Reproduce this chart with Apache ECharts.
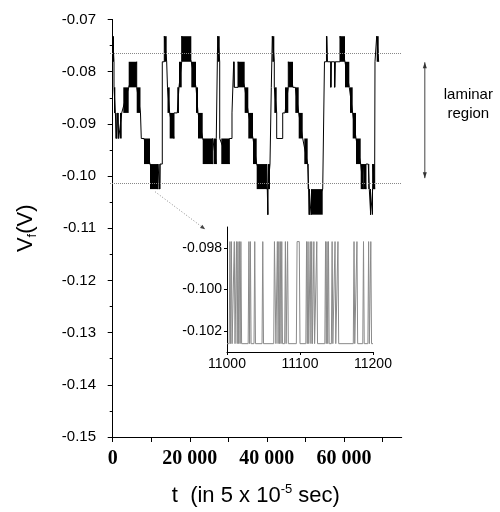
<!DOCTYPE html>
<html><head><meta charset="utf-8">
<script src="https://cdn.jsdelivr.net/npm/echarts@6/dist/echarts.min.js"></script>
<style>html,body{margin:0;padding:0;background:#fff}#c{width:500px;height:512px}</style>
</head><body><div id="c"></div>
<script>
// voltage levels of the staircase (V)
const levels = [-0.0732, -0.0781, -0.0830, -0.0879, -0.0928, -0.0977, -0.1025, -0.1074];
// signal segments: [tStart, tEnd, levelFrom, levelTo]; equal levels = flat, different = rapid switching
const segments = [
  [0,340,0,1],[340,680,2,3],[680,1040,3,4],[1040,1300,4,4],[1300,1560,3,4],[1560,1890,4,4],[1890,2340,4,3],[2340,2750,3,3],
  [2750,4150,3,2],[4150,6230,2,1],[6230,7210,2,3],[7210,7420,3,3],[7420,8120,4,4],[8120,9680,4,5],[9680,11760,5,6],
  [11760,12150,5,5],[12150,12270,6,5],[12270,12870,5,5],[12870,13390,1,1],[13390,14010,0,1],[14010,14220,1,1],
  [14220,14790,2,3],[14790,15910,3,4],[15910,16760,3,3],[16760,17200,3,2],[17200,17910,2,1],[17910,20400,0,1],
  [20400,21620,1,2],[21620,22140,2,3],[22140,23360,3,4],[23360,25950,4,5],[25950,26210,4,4],[26210,26880,4,5],
  [26880,27250,4,4],[27250,27770,0,1],[27770,28180,4,4],[28180,30260,4,5],[30260,30960,4,4],[30960,31400,3,3],
  [31400,31550,1,2],[31550,32520,2,2],[32520,34250,1,2],[34250,35190,2,3],[35190,36410,3,4],[36410,37370,4,5],
  [37370,39960,5,6],[39960,40120,5,5],[40120,40270,6,7],[40270,40820,6,5],[40820,41160,5,5],[41160,41420,2,2],
  [41420,41940,0,1],[41940,42560,2,3],[42560,44120,4,4],[44120,44710,3,3],[44710,45570,3,2],[45570,46790,1,2],
  [46790,47390,2,2],[47390,48270,2,3],[48270,49310,3,4],[49310,49720,4,4],[49720,50600,4,5],[50600,50860,5,6],
  [50860,51020,6,7],[51020,51460,6,6],[51460,54500,7,6],[54500,54960,6,6],[54960,55480,1,1],[55480,55740,0,1],
  [55740,56570,1,1],[56570,56730,2,1],[56730,57560,1,1],[57560,57770,2,1],[57770,58980,1,1],[58980,60280,0,1],
  [60280,61400,1,2],[61400,61580,2,2],[61580,62280,2,3],[62280,63140,3,4],[63140,64360,4,5],[64360,65030,5,6],
  [65030,65210,5,5],[65210,65730,5,6],[65730,66330,5,5],[66330,66590,5,6],[66590,66770,6,6],[66770,66950,6,7],
  [66950,67290,7,7],[67290,67470,7,6],[67470,67990,5,6],[67990,68070,5,5],[68070,68510,1,1],[68510,69030,0,1]
];
const laminarBounds = [-0.0764, -0.1014];
const xTickValues = [0, 10000, 20000, 30000, 40000, 50000, 60000, 70000];
const xLabelValues = [0, 20000, 40000, 60000];
// inset: zoom 11000..11200
const insetHigh = -0.0977, insetLow = -0.1026;
const insetHighRuns = [[11004,11004],[11006,11006],[11010,11010],[11013,11013],[11015,11015],[11017,11017],[11019,11019],
  [11030,11030],[11032,11032],[11038,11038],[11049,11049],[11065,11066],[11069,11069],[11071,11071],[11073,11073],
  [11075,11075],[11080,11080],[11083,11083],[11096,11099],[11109,11109],[11111,11111],[11114,11114],[11116,11116],
  [11119,11119],[11123,11123],[11135,11135],[11137,11137],[11139,11139],[11144,11144],[11148,11148],[11152,11152],
  [11174,11174],[11178,11178],[11187,11187],[11194,11194],[11197,11197]];
const insetYLabels = [-0.102, -0.100, -0.098];
// annotations (data coords of main axes)
const leader = [[11000, -0.1030], [24000, -0.1102]];
const arrowT = 81000, arrowTop = -0.0782, arrowBottom = -0.1004;
const noteT = 92300, noteLines = [['laminar', -0.0845], ['region', -0.0880]];

const linePts = [];
segments.forEach(s => { linePts.push([s[0], levels[s[2]]]); linePts.push([s[1], levels[s[3]]]); });
const bursts = segments.filter(s => s[2] !== s[3]).map(s => [s[0], s[1], Math.max(levels[s[2]], levels[s[3]]), Math.min(levels[s[2]], levels[s[3]])]);
const insetPts = [[11000, insetLow]];
insetHighRuns.forEach(r => { insetPts.push([r[0]-1, insetLow]); insetPts.push([r[0], insetHigh]); insetPts.push([r[1], insetHigh]); insetPts.push([r[1]+1, insetLow]); });
insetPts.push([11200, insetLow]);

const FS = 'Liberation Sans, Arial, sans-serif';
const chart = echarts.init(document.getElementById('c'), null, {renderer: 'canvas'});
const axisLine = {show: true, lineStyle: {color: '#000', width: 1}};
chart.setOption({
  animation: false,
  textStyle: {fontFamily: FS, color: '#000'},
  grid: [
    {left: 110, right: 98.3, top: 19.5, bottom: 75},
    {left: 227, top: 227, width: 146, height: 125}
  ],
  xAxis: [{
    type: 'value', gridIndex: 0, min: -700, max: 75000,
    axisLine, splitLine: {show: false},
    axisTick: {show: true, inside: false, length: 5, customValues: xTickValues, lineStyle: {color: '#000'}},
    axisLabel: {customValues: xLabelValues, fontFamily: 'Liberation Serif, Times New Roman, serif', fontWeight: 'bold', fontSize: 20, color: '#000', margin: 12,
      formatter: v => String(v).replace(/\B(?=(\d{3})+(?!\d))/g, ' ')},
    name: '{a|t  (in 5 x 10}{p|-5}{a| sec)}', nameLocation: 'middle', nameGap: 46,
    nameTextStyle: {rich: {a: {fontSize: 22, lineHeight: 26, fontFamily: FS, color: '#000'}, p: {fontSize: 13, lineHeight: 13, verticalAlign: 'top', fontFamily: FS, color: '#000'}}}
  }, {
    type: 'value', gridIndex: 1, min: 11000, max: 11200, interval: 100,
    axisLine, splitLine: {show: false},
    axisTick: {show: true, length: 3, lineStyle: {color: '#000'}},
    axisLabel: {fontSize: 14, color: '#000', margin: 5, formatter: v => String(v)}
  }],
  yAxis: [{
    type: 'value', gridIndex: 0, min: -0.15, max: -0.07, interval: 0.01,
    axisLine, splitLine: {show: false},
    axisTick: {show: true, inside: false, length: 5, lineStyle: {color: '#000'}},
    minorTick: {show: true, splitNumber: 2, length: 3, lineStyle: {color: '#000'}},
    axisLabel: {fontSize: 15, color: '#000', margin: 14, formatter: v => v.toFixed(2)},
    name: '{v|V}{s|f}{v|(V)}', nameLocation: 'middle', nameRotate: 90, nameGap: 71,
    nameTextStyle: {rich: {v: {fontSize: 22, lineHeight: 26, fontFamily: FS, color: '#000'}, s: {fontSize: 13, lineHeight: 13, verticalAlign: 'bottom', fontFamily: FS, color: '#000'}}}
  }, {
    type: 'value', gridIndex: 1, min: -0.103, max: -0.097,
    axisLine, splitLine: {show: false},
    axisTick: {show: true, length: 3, customValues: insetYLabels, lineStyle: {color: '#000'}},
    axisLabel: {customValues: insetYLabels, fontSize: 14, color: '#000', margin: 5, formatter: v => v.toFixed(3)}
  }],
  series: [{
    type: 'line', xAxisIndex: 0, yAxisIndex: 0, data: linePts, showSymbol: false, symbol: 'none',
    lineStyle: {color: '#000', width: 1}, z: 2, silent: true,
    markLine: {silent: true, symbol: 'none', label: {show: false}, precision: 6,
      lineStyle: {type: 'dotted', color: '#888', width: 1},
      data: laminarBounds.map(v => [{coord: [-700, v]}, {coord: [75000, v]}])}
  }, {
    type: 'custom', xAxisIndex: 0, yAxisIndex: 0, data: bursts, z: 3, silent: true,
    encode: {x: [0, 1], y: [2, 3]},
    renderItem: (params, api) => {
      const a = api.coord([api.value(0), api.value(2)]);
      const b = api.coord([api.value(1), api.value(3)]);
      return {type: 'rect', shape: {x: Math.min(a[0], b[0]), y: Math.min(a[1], b[1]),
        width: Math.max(Math.abs(b[0] - a[0]), 1), height: Math.abs(b[1] - a[1])}, style: {fill: '#000'}};
    }
  }, {
    type: 'line', xAxisIndex: 1, yAxisIndex: 1, data: insetPts, showSymbol: false, symbol: 'none',
    lineStyle: {color: '#8a8a8a', width: 1}, silent: true
  }]
});

const px = p => chart.convertToPixel({gridIndex: 0}, p);
const l0 = px(leader[0]), l1 = px(leader[1]);
const ang = Math.atan2(l1[1] - l0[1], l1[0] - l0[0]);
const head = (tip, a, len, w) => [tip, [tip[0] - len * Math.cos(a) + w * Math.sin(a), tip[1] - len * Math.sin(a) - w * Math.cos(a)],
  [tip[0] - len * Math.cos(a) - w * Math.sin(a), tip[1] - len * Math.sin(a) + w * Math.cos(a)]];
const aTop = px([arrowT, arrowTop]), aBot = px([arrowT, arrowBottom]);
const graphics = [
  {type: 'line', shape: {x1: l0[0], y1: l0[1], x2: l1[0], y2: l1[1]}, style: {stroke: '#888', lineWidth: 1, lineDash: [1, 2]}},
  {type: 'polygon', shape: {points: head(l1, ang, 5, 2)}, style: {fill: '#444'}},
  {type: 'line', shape: {x1: aTop[0], y1: aTop[1], x2: aBot[0], y2: aBot[1]}, style: {stroke: '#444', lineWidth: 1}},
  {type: 'polygon', shape: {points: head(aTop, -Math.PI / 2, 6, 2)}, style: {fill: '#333'}},
  {type: 'polygon', shape: {points: head(aBot, Math.PI / 2, 6, 2)}, style: {fill: '#333'}}
];
noteLines.forEach(n => {
  const p = px([noteT, n[1]]);
  graphics.push({type: 'text', x: p[0], y: p[1], style: {text: n[0], fontSize: 15, fontFamily: FS, fill: '#000', align: 'center', verticalAlign: 'middle'}});
});
chart.setOption({graphic: graphics});
</script></body></html>
